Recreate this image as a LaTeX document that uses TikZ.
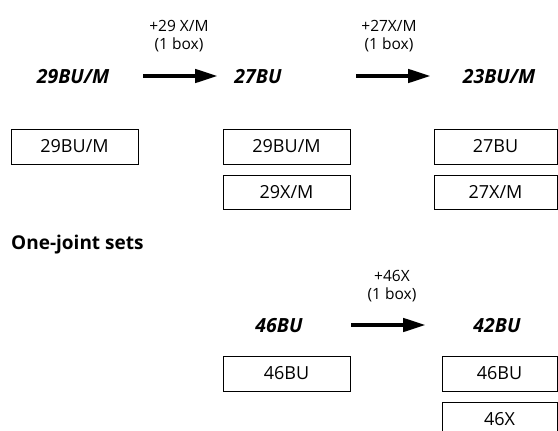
\documentclass[tikz,border=0pt]{standalone}
\usepackage{fontspec}
\setmainfont{Open Sans}
\usetikzlibrary{arrows.meta}
\begin{document}
\begin{tikzpicture}[x=1pt,y=-1pt,
  setbox/.style={draw, line width=0.8pt, inner sep=0pt, font=\fontsize{18}{18}\selectfont},
  title/.style={font=\fontsize{19.5}{19.5}\selectfont\bfseries\itshape},
  note/.style={font=\fontsize{15.5}{18.5}\selectfont, align=center, inner sep=0pt},
  fatarrow/.style={line width=4.5pt, -{Triangle[length=23pt,width=13pt]}}]
\useasboundingbox (0,0) rectangle (558,431);
\clip (0,0) rectangle (558,431);
% top row titles
\node[title] (t1) at (73,77) {29BU/M};
\node[title] (t2) at (258,77) {27BU};
\node[title] (t3) at (499,77) {23BU/M};
\coordinate (a1s) at (143,76);
\coordinate (a1e) at (218,76);
\coordinate (a2s) at (356,76);
\coordinate (a2e) at (431,76);
\draw[fatarrow] (a1s) -- (a1e);
\draw[fatarrow] (a2s) -- (a2e);
\node[note] (n1) at (179,36) {+29 X/M\\(1 box)};
\node[note] (n2) at (389,36) {+27X/M\\(1 box)};
% top boxes
\node[setbox, minimum width=127pt, minimum height=35pt] (b1) at (74.5,146.5) {29BU/M};
\node[setbox, minimum width=127pt, minimum height=35pt] (b2) at (286.5,146.5) {29BU/M};
\node[setbox, minimum width=127pt, minimum height=34pt] (b3) at (286.5,192) {29X/M};
\node[setbox, minimum width=123pt, minimum height=35pt] (b4) at (495.5,146.5) {27BU};
\node[setbox, minimum width=123pt, minimum height=34pt] (b5) at (495.5,192) {27X/M};
% one-joint
\node[anchor=west, inner sep=0pt, font=\fontsize{19}{19}\selectfont\bfseries] (oj) at (11,245) {One-joint sets};
\node[title] (t4) at (279,326) {46BU};
\node[title] (t5) at (497,326) {42BU};
\coordinate (a3s) at (351,325);
\coordinate (a3e) at (426,325);
\draw[fatarrow] (a3s) -- (a3e);
\node[note] (n3) at (392,286) {+46X\\(1 box)};
\node[setbox, minimum width=127pt, minimum height=35pt] (b6) at (286.5,373.5) {46BU};
\node[setbox, minimum width=115pt, minimum height=35pt] (b7) at (499.5,373.5) {46BU};
\node[setbox, minimum width=115pt, minimum height=36pt, anchor=north] (b8) at (499.5,402) {};
\node[font=\fontsize{18}{18}\selectfont] (b8t) at (499.5,419) {46X};
\end{tikzpicture}
\end{document}
